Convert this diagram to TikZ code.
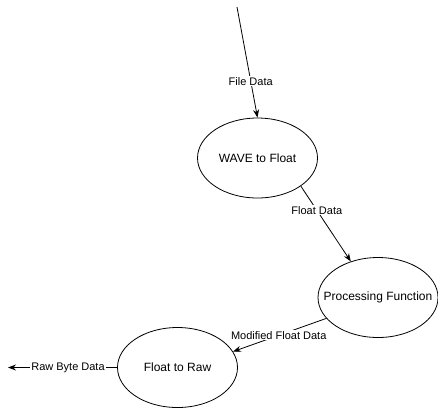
\documentclass[tikz,border=0pt]{standalone}
\usepackage{fontspec}
\setmainfont{Liberation Sans}
\usetikzlibrary{arrows.meta,shapes.geometric}
\begin{document}
\begin{tikzpicture}[x=1pt,y=-1pt,
  proc/.style={draw,ellipse,minimum width=120pt,minimum height=80pt,inner ysep=0pt,inner xsep=-20pt,line width=0.8pt,font=\fontsize{12}{14}\selectfont},
  conn/.style={draw,line width=0.8pt,-{Stealth[length=8pt,width=6pt]}},
  lbl/.style={fill=white,inner sep=1pt,font=\fontsize{11}{13}\selectfont}]
\useasboundingbox (0,0) rectangle (438,408);
\node[proc] (wave) at (257.5,158) {WAVE to Float};
\node[proc] (pf) at (378,297.5) {Processing Function};
\node[proc] (f2r) at (177.5,367.5) {Float to Raw};
\coordinate (src) at (237,7);
\coordinate (out) at (8,367.5);
\draw[conn] (src) -- node[lbl,pos=0.67]{File Data} (wave.90);
\draw[conn] (wave.-33) -- node[lbl,pos=0.32]{Float Data} (pf.127);
\draw[conn] (pf.202) -- node[lbl,pos=0.51]{Modified Float Data} (f2r.16);
\draw[conn] (f2r.west) -- node[lbl,pos=0.45]{Raw Byte Data} (out);
\end{tikzpicture}
\end{document}
